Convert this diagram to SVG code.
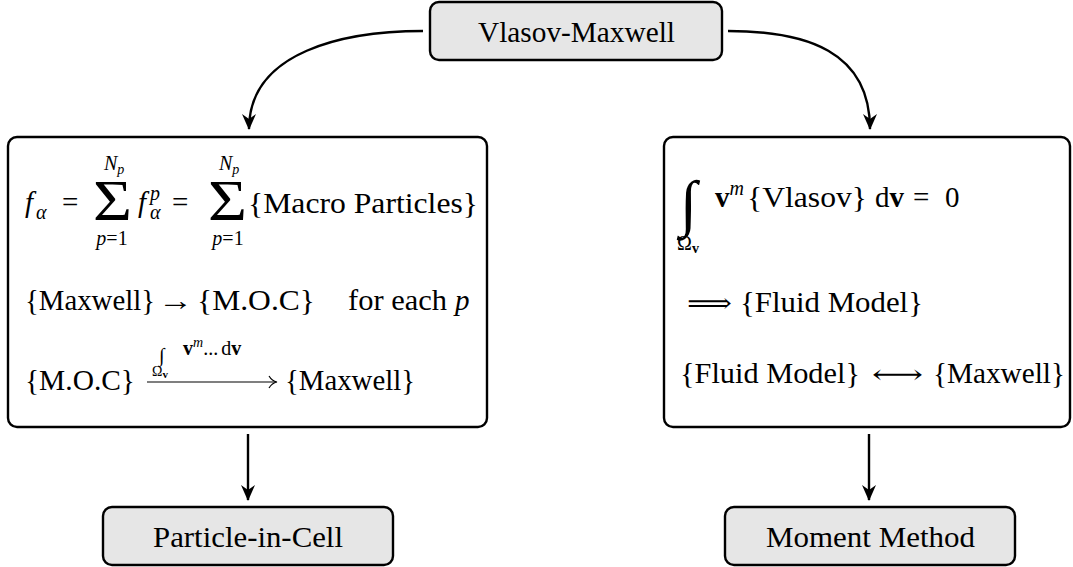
<svg xmlns="http://www.w3.org/2000/svg" width="1073" height="567" viewBox="0 0 1073 567">
<style>
text{font-family:"Liberation Serif","DejaVu Serif",serif;fill:#000}
.box{fill:#ffffff;stroke:#000;stroke-width:2.4}
.gbox{fill:#e6e6e6;stroke:#000;stroke-width:2.4}
.t{font-size:29px}
.s{font-size:20px}
.ss{font-size:14px}
.i{font-style:italic}
.b{font-weight:bold}
.sym{font-family:"DejaVu Serif","DejaVu Sans",serif}
.conn{fill:none;stroke:#000;stroke-width:2.4}
.thin{fill:none;stroke:#000;stroke-width:1.2}
</style>
<defs>
<marker id="ah" viewBox="0 0 16 15" refX="15" refY="7.5" markerWidth="16" markerHeight="15" markerUnits="userSpaceOnUse" orient="auto">
<path d="M0,0.5 L16,7.5 L0,14.5 L5,7.5 Z" fill="#000"/>
</marker>
</defs>

<g id="connectors">
<path class="conn" d="M423,31 C345,31 249,51 249,129" marker-end="url(#ah)"/>
<path class="conn" d="M728,31 C806,31 870,51 870,129" marker-end="url(#ah)"/>
<path class="conn" d="M248,434 L248,500" marker-end="url(#ah)"/>
<path class="conn" d="M869,434 L869,500" marker-end="url(#ah)"/>
</g>

<g id="vlasov-maxwell">
<rect class="gbox" x="430" y="2" width="292" height="58" rx="9"/>
<text class="t" x="478" y="42" textLength="197" lengthAdjust="spacingAndGlyphs">Vlasov-Maxwell</text>
</g>

<g id="pic-box">
<rect class="box" x="8" y="137" width="479" height="290" rx="9"/>
<!-- line 1 -->
<text class="t i" x="25" y="212">f</text>
<text class="s i" x="36" y="219">α</text>
<text class="t" x="62" y="212">=</text>
<text x="93" y="220" font-size="57" textLength="39" lengthAdjust="spacingAndGlyphs">Σ</text>
<text class="s i" x="104" y="170">N<tspan class="ss" dy="4">p</tspan></text>
<text class="s" x="112" y="245" text-anchor="middle"><tspan class="i">p</tspan>=1</text>
<text class="t i" x="138" y="212">f</text>
<text class="s i" x="150" y="200">p</text>
<text class="s i" x="150" y="219">α</text>
<text class="t" x="172" y="212">=</text>
<text x="208" y="220" font-size="57" textLength="39" lengthAdjust="spacingAndGlyphs">Σ</text>
<text class="s i" x="219" y="170">N<tspan class="ss" dy="4">p</tspan></text>
<text class="s" x="228" y="245" text-anchor="middle"><tspan class="i">p</tspan>=1</text>
<text class="t" x="248" y="213" textLength="230" lengthAdjust="spacingAndGlyphs">{Macro Particles}</text>
<!-- line 2 -->
<text class="t" x="25" y="310" textLength="130" lengthAdjust="spacingAndGlyphs">{Maxwell}</text>
<text class="t" x="158" y="310" textLength="35" lengthAdjust="spacingAndGlyphs">→</text>
<text class="t" x="197" y="310" textLength="118" lengthAdjust="spacingAndGlyphs">{M.O.C}</text>
<text class="t" x="348" y="310" textLength="99" lengthAdjust="spacingAndGlyphs">for each</text>
<text class="t i" x="455" y="310">p</text>
<!-- line 3 -->
<text class="t" x="25" y="390" textLength="110" lengthAdjust="spacingAndGlyphs">{M.O.C}</text>
<path class="thin" d="M147,382 L276,382"/>
<path class="thin" d="M269,376 Q272,381 277,382 Q272,383 269,388"/>
<text x="159" y="362" font-size="20" class="i">∫</text>
<text class="ss" x="152" y="376">Ω<tspan class="b" font-size="11" dy="2">v</tspan></text>
<text class="s" x="183" y="355"><tspan class="b">v</tspan><tspan class="ss i" dy="-8">m</tspan><tspan dy="8">...</tspan><tspan dx="3">d</tspan><tspan class="b">v</tspan></text>
<text class="t" x="285" y="390" textLength="130" lengthAdjust="spacingAndGlyphs">{Maxwell}</text>
</g>

<g id="moment-box">
<rect class="box" x="664" y="137" width="406" height="290" rx="9"/>
<!-- line 1 -->
<text class="i" x="680" y="224" font-size="62">∫</text>
<text class="s" x="677" y="250">Ω<tspan class="ss b" dy="3">v</tspan></text>
<text class="t" x="715" y="207"><tspan class="b">v</tspan><tspan class="s i" dy="-12">m</tspan></text>
<text class="t" x="747" y="207" textLength="120" lengthAdjust="spacingAndGlyphs">{Vlasov}</text>
<text class="t" x="875" y="207">d<tspan class="b">v</tspan></text>
<text class="t" x="913" y="207">=</text>
<text class="t" x="945" y="207">0</text>
<!-- line 2 -->
<text class="sym" x="687" y="312" font-size="26" textLength="45" lengthAdjust="spacingAndGlyphs">⟹</text>
<text class="t" x="740" y="312" textLength="183" lengthAdjust="spacingAndGlyphs">{Fluid Model}</text>
<!-- line 3 -->
<text class="t" x="680" y="383" textLength="180" lengthAdjust="spacingAndGlyphs">{Fluid Model}</text>
<text class="sym" x="872" y="383" font-size="26" textLength="51" lengthAdjust="spacingAndGlyphs">⟷</text>
<text class="t" x="933" y="383" textLength="132" lengthAdjust="spacingAndGlyphs">{Maxwell}</text>
</g>

<g id="particle-in-cell">
<rect class="gbox" x="103" y="507" width="290" height="58" rx="9"/>
<text class="t" x="153" y="547" textLength="190" lengthAdjust="spacingAndGlyphs">Particle-in-Cell</text>
</g>

<g id="moment-method">
<rect class="gbox" x="725" y="507" width="290" height="58" rx="9"/>
<text class="t" x="766" y="547" textLength="209" lengthAdjust="spacingAndGlyphs">Moment Method</text>
</g>
</svg>
